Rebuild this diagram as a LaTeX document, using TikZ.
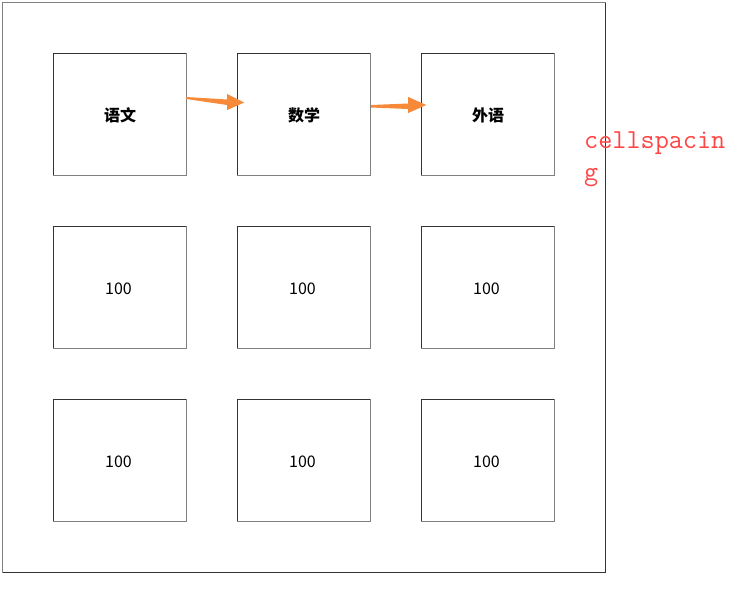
\documentclass[tikz,border=0pt]{standalone}
\usepackage{fontspec}
\newfontfamily\cjk{Noto Sans CJK SC}
\setmonofont{Latin Modern Mono}
\usetikzlibrary{calc}
\definecolor{darkb}{HTML}{333333}
\definecolor{liteb}{HTML}{808080}
\definecolor{arrc}{HTML}{F78A38}
\definecolor{labc}{HTML}{FF4444}
\begin{document}
\begin{tikzpicture}[x=1pt,y=-1pt,
  cell/.style={minimum width=133pt,minimum height=122pt,inner sep=0pt},
  celltext/.style={font=\cjk\fontsize{16}{16}\selectfont,inner sep=0pt},
  headtext/.style={font=\cjk\bfseries\fontsize{16}{16}\selectfont,inner sep=0pt},
  arrshape/.style={fill=arrc,draw=none},
  lbl/.style={text=labc,font=\ttfamily\fontsize{27.4}{27.4}\selectfont,inner sep=0pt,anchor=base west}]
\useasboundingbox (0,0) rectangle (742,590);
\fill[white] (0,0) rectangle (742,590);
% outer table border
\coordinate (tl) at (2.5,2.5);
\coordinate (br) at (605.5,572.5);
\draw[liteb] (br -| tl) -- (tl) -- (tl -| br);
\draw[darkb] (tl -| br) -- (br) -- (br -| tl);
% cells
\node[cell] (c11) at (119.5,114) {};
\node[cell] (c12) at (303.5,114) {};
\node[cell] (c13) at (487.5,114) {};
\node[cell] (c21) at (119.5,287) {};
\node[cell] (c22) at (303.5,287) {};
\node[cell] (c23) at (487.5,287) {};
\node[cell] (c31) at (119.5,460) {};
\node[cell] (c32) at (303.5,460) {};
\node[cell] (c33) at (487.5,460) {};
\foreach \n in {c11,c12,c13,c21,c22,c23,c31,c32,c33}{
  \draw[darkb] (\n.south west) |- (\n.north east);
  \draw[liteb] (\n.south west) -| (\n.north east);
}
\node[headtext] (t11) at ($(c11)+(0.5,1.5)$) {语文};
\node[headtext] (t12) at ($(c12)+(0.5,1.5)$) {数学};
\node[headtext] (t13) at ($(c13)+(0.5,1.5)$) {外语};
\foreach \n in {c21,c22,c23,c31,c32,c33}{
  \node[celltext] (t\n) at ($(\n)+(-1,1.5)$) {100};
}
% arrows
\begin{scope}[shift={(c11.east)}]
  \fill[arrshape] (0,-17) -- (41,-14.5) -- (41,-20) -- (58,-11.5) -- (41,-4) -- (41,-9) -- (0,-15) -- cycle;
\end{scope}
\begin{scope}[shift={(c12.east)}]
  \fill[arrshape] (1,-9) -- (38,-10.5) -- (38,-17) -- (56,-9) -- (38,-1) -- (38,-5) -- (1,-6.5) -- cycle;
\end{scope}
% label
\node[lbl] (lab1) at (584,148) {cellspacin};
\node[lbl] (lab2) at (584,180) {g};
\end{tikzpicture}
\end{document}
